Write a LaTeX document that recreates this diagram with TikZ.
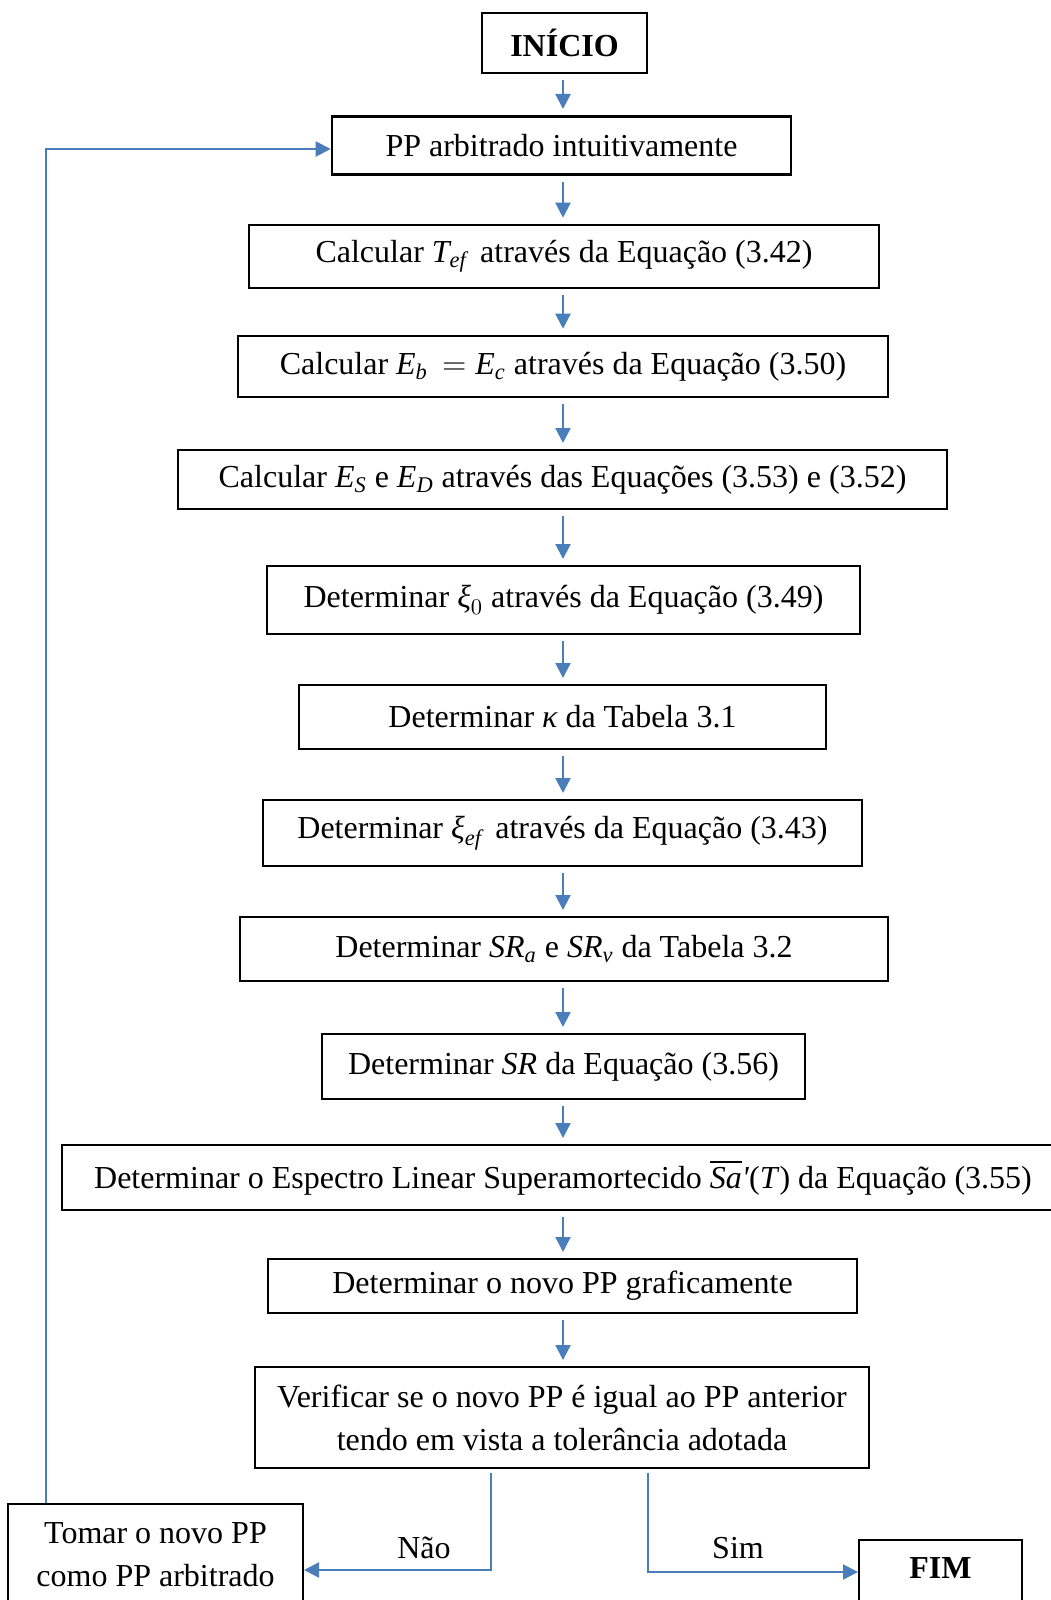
\RequirePackage{fix-cm}
\documentclass[tikz,border=0pt]{standalone}
\usepackage{amsmath}
\usepackage{fontspec}
\setmainfont{Liberation Serif}
\usetikzlibrary{arrows.meta}
\definecolor{flowblue}{RGB}{74,126,187}
% italic variables set in the text face
\newcommand\mv[1]{\textit{#1}}
\tikzset{
  box/.style={draw=black, line width=1pt, inner sep=0pt, align=center,
    font=\fontsize{16}{21.5}\selectfont},
  boxb/.style={box, line width=1.3pt},
  flow/.style={draw=flowblue, line width=1.1pt,
    -{Triangle[length=7.5pt,width=7.5pt]}},
  down/.style={flow, shorten <=3pt, shorten >=3pt},
  lbl/.style={font=\fontsize{16}{19}\selectfont, inner sep=0pt}
}
\begin{document}
\begin{tikzpicture}[x=0.5pt, y=-0.5pt]
\useasboundingbox (0,0) rectangle (1050,1600);

% main column of steps
\node[boxb, minimum width=82.5pt, minimum height=30pt, font=\fontsize{16}{19}\bfseries] (ini) at (564.5,43) {INÍCIO};
\node[boxb, minimum width=229.5pt, minimum height=29.2pt] (pp) at (561.5,145.5) {PP arbitrado intuitivamente};
\node[boxb, minimum width=315pt, minimum height=31.5pt] (tef) at (564,256.5) {Calcular $\mv{T}_{\mv{ef}}$\, através da Equação (3.42)};
\node[boxb, minimum width=325pt, minimum height=30.5pt] (eb) at (563,366.5) {Calcular $\mv{E}_{\mv{b}}\,=\mv{E}_{\mv{c}}$ através da Equação (3.50)};
\node[box, minimum width=384.5pt, minimum height=29.5pt] (es) at (562.5,479.5) {Calcular $\mv{E}_{\mv{S}}$ e $\mv{E}_{\mv{D}}$ através das Equações (3.53) e (3.52)};
\node[box, minimum width=296.5pt, minimum height=34pt] (xi0) at (563.5,600) {Determinar $\mv{ξ}_{0}$ através da Equação (3.49)};
\node[box, minimum width=263.5pt, minimum height=32pt] (kap) at (562.5,717) {Determinar $\mv{κ}$ da Tabela 3.1};
\node[box, minimum width=299.5pt, minimum height=33pt] (xief) at (562.5,833) {Determinar $\mv{ξ}_{\mv{ef}}$\, através da Equação (3.43)};
\node[box, minimum width=324pt, minimum height=32pt] (sr) at (564,949) {Determinar $\mv{SR}_{\mv{a}}$ e $\mv{SR}_{\mv{v}}$ da Tabela 3.2};
\node[box, minimum width=241.5pt, minimum height=32.5pt] (sreq) at (563.5,1066.5) {Determinar $\mv{SR}$ da Equação (3.56)};
\node[box, minimum width=501pt, minimum height=32.5pt] (esp) at (563,1177.5) {Determinar o Espectro Linear Superamortecido $\overline{\mv{Sa}}$\mv{\textquotesingle}(\mv{T}) da Equação (3.55)};
\node[box, minimum width=294.5pt, minimum height=27pt] (novo) at (562.5,1286) {Determinar o novo PP graficamente};
\node[box, minimum width=307pt, minimum height=50.5pt] (ver) at (562,1417.5) {Verificar se o novo PP é igual ao PP anterior\\tendo em vista a tolerância adotada};

% outcomes of the check
\node[box, minimum width=147.5pt, minimum height=51pt] (tomar) at (155.5,1554.5) {Tomar o novo PP\\como PP arbitrado};
\node[box, anchor=north, minimum width=81.5pt, inner ysep=0pt, text height=19.25pt, text depth=13.75pt,
  font=\fontsize{16}{19}\bfseries] (fim) at (940.5,1539) {FIM};

% vertical flow arrows
\coordinate (col) at (563,0);
\foreach \a/\b in {ini/pp, pp/tef, tef/eb, eb/es, es/xi0, xi0/kap, kap/xief,
                   xief/sr, sr/sreq, sreq/esp, esp/novo, novo/ver}
  \draw[down] (\a.south -| col) -- (\b.north -| col);

% branch "Não": back to the loop
\coordinate (naox) at (491,1570);
\draw[flow, shorten <=2pt] (ver.south -| naox) -- (naox) -- (naox -| tomar.east);
\node[lbl] (nao) at (424,1548) {Não};

% branch "Sim": end
\coordinate (simx) at (648,1572);
\draw[flow, shorten <=2pt] (ver.south -| simx) -- (simx) -- (simx -| fim.west);
\node[lbl] (sim) at (738,1548) {Sim};

% feedback loop to the arbitrated PP
\coordinate (fbx) at (46,0);
\draw[flow] (tomar.north -| fbx) |- ([yshift=-1.75pt]pp.west);
\end{tikzpicture}
\end{document}
